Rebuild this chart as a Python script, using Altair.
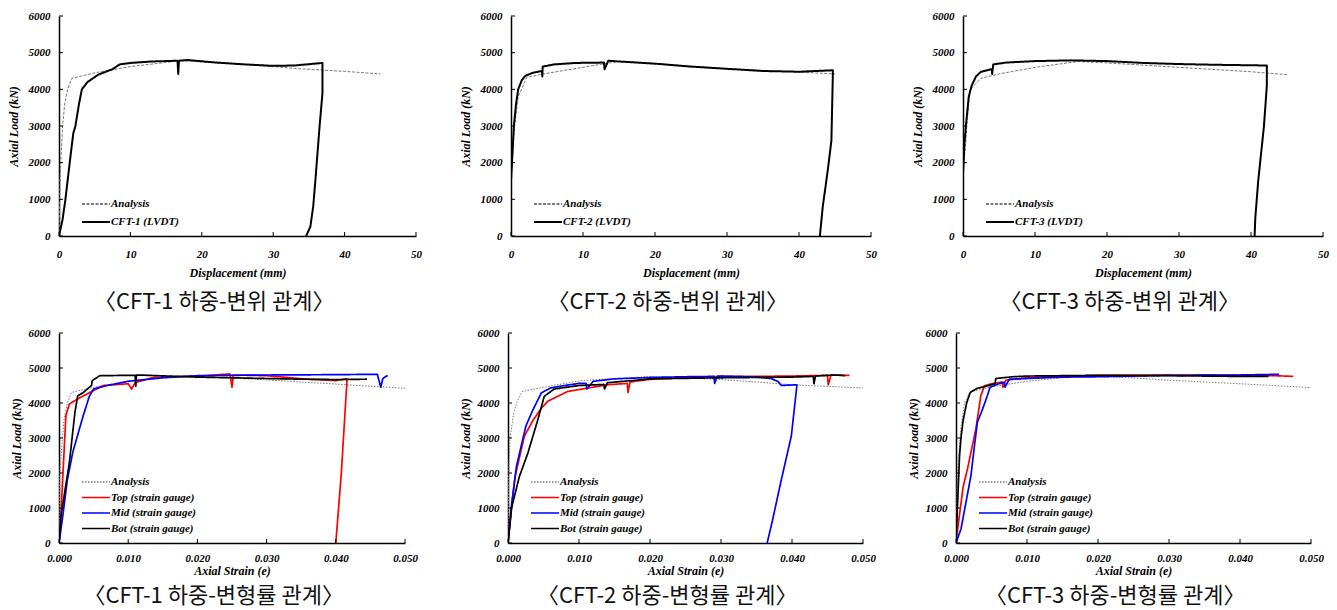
import altair as alt
import pandas as pd

SERIF = "Liberation Serif"
KR = "Noto Sans CJK KR"

LOAD_TICKS = [0, 1000, 2000, 3000, 4000, 5000, 6000]
DISP_TICKS = [0, 10, 20, 30, 40, 50]
STRAIN_TICKS = [0.0, 0.01, 0.02, 0.03, 0.04, 0.05]

# ---------------- Load-displacement (top row) ----------------
CFT1_DISP_ANALYSIS = [(0, 0), (0.15, 1500), (0.3, 2200), (0.5, 3000), (0.8, 3600), (1.2, 4000), (1.8, 4300),
                      (5, 4450), (10, 4620), (17, 4780), (25, 4700), (33, 4570), (40, 4490), (45, 4420)]
CFT1_DISP_LVDT = [(0, 0), (0.5, 450), (0.9, 1000), (1.5, 2000), (2.0, 2800), (2.3, 3000), (2.8, 3600), (3.2, 4000),
                  (4.0, 4200), (5.5, 4400), (7.5, 4550), (8.5, 4680), (10, 4720), (13, 4760), (16.6, 4780),
                  (16.7, 4420), (16.8, 4780), (18, 4800), (22, 4730), (26, 4680), (30, 4640), (33, 4650),
                  (36.9, 4720), (36.9, 3900), (36.5, 3000), (35.9, 1500), (35.6, 800), (35.2, 250), (34.6, 0)]

CFT2_DISP_ANALYSIS = [(0, 1500), (0.5, 3000), (1.0, 3800), (2.2, 4330), (4.5, 4420), (13, 4700), (15, 4760),
                      (20, 4700), (30, 4560), (40, 4470), (45, 4420)]
CFT2_DISP_LVDT = [(0, 1500), (0.4, 3000), (0.7, 3600), (1.0, 4000), (1.5, 4250), (2.0, 4370), (3.0, 4450),
                  (4.3, 4500), (4.35, 4350), (4.4, 4620), (6, 4680), (9, 4720), (12.9, 4730), (13.0, 4550),
                  (13.5, 4780), (15, 4760), (20, 4700), (25, 4620), (30, 4560), (35, 4500), (40, 4480),
                  (44.7, 4520), (44.7, 4400), (44.5, 2600), (44.0, 1800), (43.3, 800), (42.9, 0)]

CFT3_DISP_ANALYSIS = [(0, 1700), (0.4, 2600), (0.6, 3200), (1.0, 4000), (2.5, 4300), (5, 4420), (10, 4600),
                      (16, 4760), (20, 4720), (30, 4600), (40, 4480), (45, 4400)]
CFT3_DISP_LVDT = [(0, 1700), (0.2, 2500), (0.4, 3000), (0.8, 3800), (1.2, 4100), (1.8, 4350), (2.5, 4480),
                  (4.0, 4550), (4.05, 4420), (4.2, 4680), (6, 4730), (10, 4770), (15, 4790), (20, 4770),
                  (25, 4720), (30, 4690), (35, 4670), (42.2, 4650), (42.2, 4100), (41.8, 3000), (41.0, 1500),
                  (40.6, 500), (40.5, 0)]

# ---------------- Load-strain (bottom row) ----------------
CFT1_STR_ANALYSIS = [(0, 0), (0.0001, 2000), (0.0007, 3500), (0.0012, 4000), (0.0018, 4300), (0.005, 4450),
                     (0.01, 4620), (0.017, 4760), (0.022, 4740), (0.03, 4660), (0.04, 4540), (0.05, 4420)]
CFT1_STR_TOP = [(0, 0), (0.0003, 900), (0.0006, 2100), (0.001, 3650), (0.0015, 3970), (0.003, 4150),
                (0.0064, 4500), (0.010, 4550), (0.0105, 4400), (0.011, 4580), (0.0136, 4730), (0.021, 4780),
                (0.0247, 4830), (0.025, 4450), (0.0252, 4800), (0.030, 4780), (0.0353, 4690), (0.040, 4640),
                (0.0416, 4690), (0.0416, 4600), (0.0408, 2000), (0.0400, 0)]
CFT1_STR_MID = [(0, 0), (0.0005, 700), (0.0012, 1800), (0.002, 2600), (0.0035, 3640), (0.0044, 4200),
                (0.005, 4400), (0.007, 4500), (0.01, 4620), (0.015, 4720), (0.02, 4780), (0.03, 4800),
                (0.04, 4810), (0.046, 4820), (0.0465, 4450), (0.0468, 4700), (0.0475, 4790)]
CFT1_STR_BOT = [(0, 0), (0.0003, 800), (0.0015, 2300), (0.0023, 3730), (0.0027, 4200), (0.0035, 4300),
                (0.0047, 4500), (0.0048, 4640), (0.0059, 4780), (0.01, 4790), (0.011, 4790), (0.0111, 4480),
                (0.0112, 4800), (0.013, 4790), (0.02, 4740), (0.025, 4720), (0.03, 4700), (0.035, 4680),
                (0.04, 4670), (0.0445, 4680)]

CFT2_STR_ANALYSIS = [(0, 0), (0.0001, 2000), (0.0003, 3000), (0.0008, 3700), (0.0012, 4000), (0.002, 4330),
                     (0.005, 4450), (0.0103, 4640), (0.0197, 4750), (0.025, 4720), (0.03, 4670), (0.035, 4600),
                     (0.04, 4520), (0.05, 4430)]
CFT2_STR_TOP = [(0, 0), (0.0005, 1000), (0.001, 1900), (0.0023, 3050), (0.0035, 3500), (0.0047, 3850),
                (0.0056, 4050), (0.0084, 4330), (0.014, 4520), (0.0168, 4560), (0.0169, 4300), (0.0172, 4600),
                (0.0197, 4670), (0.025, 4730), (0.0305, 4760), (0.035, 4760), (0.04, 4770), (0.045, 4790),
                (0.0451, 4520), (0.0455, 4800), (0.0481, 4790)]
CFT2_STR_MID = [(0, 0), (0.0005, 1100), (0.0012, 2200), (0.0025, 3330), (0.0035, 3800), (0.0047, 4290),
                (0.006, 4430), (0.008, 4500), (0.01, 4560), (0.011, 4560), (0.0111, 4400), (0.012, 4620),
                (0.015, 4690), (0.02, 4730), (0.025, 4750), (0.029, 4760), (0.0291, 4560), (0.0295, 4770),
                (0.035, 4740), (0.037, 4700), (0.038, 4620), (0.0385, 4500), (0.0405, 4520), (0.0407, 4520),
                (0.0399, 3050), (0.0385, 1810), (0.0372, 600), (0.0365, 0)]
CFT2_STR_BOT = [(0, 0), (0.0005, 1000), (0.0016, 1900), (0.0028, 2570), (0.0042, 3520), (0.0051, 4190),
                (0.0065, 4400), (0.01, 4500), (0.0135, 4530), (0.0136, 4400), (0.014, 4580), (0.018, 4650),
                (0.02, 4690), (0.03, 4720), (0.035, 4730), (0.04, 4740), (0.043, 4760), (0.0431, 4550),
                (0.0433, 4770), (0.046, 4800), (0.0475, 4780)]

CFT3_STR_ANALYSIS = [(0, 0), (0.0002, 2000), (0.0007, 3300), (0.0012, 4000), (0.002, 4320), (0.005, 4460),
                     (0.01, 4620), (0.015, 4720), (0.02, 4760), (0.025, 4720), (0.03, 4650), (0.04, 4550),
                     (0.05, 4440)]
CFT3_STR_TOP = [(0, 0), (0.0003, 500), (0.001, 1600), (0.0016, 2100), (0.0028, 3260), (0.0035, 4210),
                (0.004, 4490), (0.005, 4550), (0.0065, 4600), (0.0066, 4450), (0.007, 4650), (0.01, 4720),
                (0.015, 4760), (0.02, 4790), (0.03, 4800), (0.04, 4790), (0.045, 4780), (0.0475, 4760)]
CFT3_STR_MID = [(0, 0), (0.0007, 400), (0.0021, 1920), (0.003, 3450), (0.0037, 3800), (0.0044, 4200),
                (0.0048, 4450), (0.006, 4550), (0.0068, 4590), (0.0069, 4450), (0.0075, 4680), (0.01, 4700),
                (0.015, 4740), (0.02, 4750), (0.03, 4790), (0.04, 4800), (0.0455, 4820)]
CFT3_STR_BOT = [(0, 0), (0.0002, 1000), (0.0005, 2500), (0.0007, 3000), (0.001, 3500), (0.0015, 4000),
                (0.002, 4300), (0.003, 4420), (0.005, 4520), (0.0055, 4550), (0.0056, 4700), (0.008, 4750),
                (0.01, 4770), (0.02, 4790), (0.03, 4780), (0.04, 4760), (0.044, 4760)]

DISP_NAMES = {1: ["Analysis", "CFT-1 (LVDT)"], 2: ["Analysis", "CFT-2 (LVDT)"], 3: ["Analysis", "CFT-3 (LVDT)"]}
STR_NAMES = ["Analysis", "Top (strain gauge)", "Mid (strain gauge)", "Bot (strain gauge)"]

DISP_SERIES = {1: [CFT1_DISP_ANALYSIS, CFT1_DISP_LVDT], 2: [CFT2_DISP_ANALYSIS, CFT2_DISP_LVDT],
               3: [CFT3_DISP_ANALYSIS, CFT3_DISP_LVDT]}
STR_SERIES = {1: [CFT1_STR_ANALYSIS, CFT1_STR_TOP, CFT1_STR_MID, CFT1_STR_BOT],
              2: [CFT2_STR_ANALYSIS, CFT2_STR_TOP, CFT2_STR_MID, CFT2_STR_BOT],
              3: [CFT3_STR_ANALYSIS, CFT3_STR_TOP, CFT3_STR_MID, CFT3_STR_BOT]}

DISP_CAPTIONS = {1: "〈CFT-1 하중-변위 관계〉", 2: "〈CFT-2 하중-변위 관계〉", 3: "〈CFT-3 하중-변위 관계〉"}
STR_CAPTIONS = {1: "〈CFT-1 하중-변형률 관계〉", 2: "〈CFT-2 하중-변형률 관계〉", 3: "〈CFT-3 하중-변형률 관계〉"}

TOP_WIDTHS = {1: 357, 2: 360, 3: 360}
BOT_WIDTHS = {1: 346, 2: 355, 3: 355}


def make_df(names, series, widths):
    rows = []
    for name, pts, wd in zip(names, series, widths):
        for i, (x, y) in enumerate(pts):
            rows.append({"x": x, "y": y, "series": name, "i": i, "w": wd})
    return pd.DataFrame(rows)


def panel(names, series, colors, dashes, widths, sym_w, xticks, xdomain, xtitle, xfmt, caption,
          w, h, legend_y, row_pad, x_label_pad, x_title_pad, y_title_pad, cap_offset):
    df = make_df(names, series, widths)
    leg = alt.Legend(title=None, orient="none", legendX=20, legendY=legend_y,
                     labelFont=SERIF, labelFontStyle="italic", labelFontWeight="bold",
                     labelFontSize=11, labelColor="black", symbolType="M-1,0H3", symbolSize=196,
                     symbolStrokeWidth=sym_w, rowPadding=row_pad, labelOffset=14, padding=2)
    xsc = alt.Scale(domain=xdomain, nice=False, zero=False)
    ysc = alt.Scale(domain=[0, 6000], nice=False)
    xaxis = alt.Axis(values=xticks, title=xtitle, format=xfmt, labelPadding=x_label_pad,
                     titlePadding=x_title_pad, ticks=False, labelFlush=False)
    yaxis = alt.Axis(values=LOAD_TICKS, title="Axial Load (kN)", format="d",
                     labelPadding=9, titlePadding=y_title_pad, ticks=False)
    lines = alt.Chart(df).mark_line(strokeJoin="round", clip=True).encode(
        x=alt.X("x:Q", scale=xsc, axis=xaxis),
        y=alt.Y("y:Q", scale=ysc, axis=yaxis),
        color=alt.Color("series:N", scale=alt.Scale(domain=names, range=colors), legend=leg),
        strokeDash=alt.StrokeDash("series:N", scale=alt.Scale(domain=names, range=dashes), legend=leg),
        strokeWidth=alt.StrokeWidth("w:Q", scale=None),
        order=alt.Order("i:Q"),
    )
    xt = alt.Chart(pd.DataFrame({"x": xticks})).mark_rule(color="black", strokeWidth=1).encode(
        x=alt.X("x:Q", scale=xsc, axis=xaxis), y=alt.value(h), y2=alt.value(h - 4))
    yt = alt.Chart(pd.DataFrame({"y": LOAD_TICKS})).mark_rule(color="black", strokeWidth=1).encode(
        y=alt.Y("y:Q", scale=ysc, axis=yaxis), x=alt.value(0), x2=alt.value(4))
    return alt.layer(lines, xt, yt).properties(
        width=w, height=h,
        title=alt.TitleParams(caption, orient="bottom", anchor="middle", frame="bounds", font=KR,
                              fontSize=22, fontWeight="normal", color="#111", offset=cap_offset),
    )


GRAY = "#7a7a7a"
top = {}
for k in (1, 2, 3):
    top[k] = panel(DISP_NAMES[k], DISP_SERIES[k], [GRAY, "black"], [[3, 1.5], [1, 0]], [1, 2], 1.8,
                   DISP_TICKS, [0, 50], "Displacement (mm)", "d", DISP_CAPTIONS[k],
                   TOP_WIDTHS[k], 220, 178, 5, 12, 8, 8, 14)
bot = {}
for k in (1, 2, 3):
    bot[k] = panel(STR_NAMES, STR_SERIES[k], [GRAY, "#ff0000", "#0000ff", "black"],
                   [[1.5, 1.5], [1, 0], [1, 0], [1, 0]], [1, 1.7, 1.7, 1.7], 1.6,
                   STRAIN_TICKS, [0, 0.05], "Axial Strain (e)", ".3f", STR_CAPTIONS[k],
                   BOT_WIDTHS[k], 210, 139, 2.5, 9, 2, 5, 10)

RES = dict(color="independent", strokeDash="independent")
top_row = alt.hconcat(
    alt.hconcat(top[1], top[2], spacing=37).resolve_scale(**RES), top[3], spacing=34
).resolve_scale(**RES)
bot_row = alt.hconcat(
    alt.hconcat(bot[1], bot[2], spacing=41).resolve_scale(**RES), bot[3], spacing=31
).resolve_scale(**RES)

chart = alt.vconcat(top_row, bot_row, spacing=14).resolve_scale(**RES).properties(
    padding={"left": 7, "top": 10, "right": 5, "bottom": 4}, background="white"
).configure_view(stroke=None).configure_axis(
    grid=False, domainColor="black", domainWidth=1.5,
    labelFont=SERIF, labelFontStyle="italic", labelFontWeight="bold", labelFontSize=11, labelColor="black",
    titleFont=SERIF, titleFontStyle="italic", titleFontWeight="bold", titleFontSize=12, titleColor="black",
)

chart.save("out.html", embed_options={"renderer": "svg", "actions": False})
